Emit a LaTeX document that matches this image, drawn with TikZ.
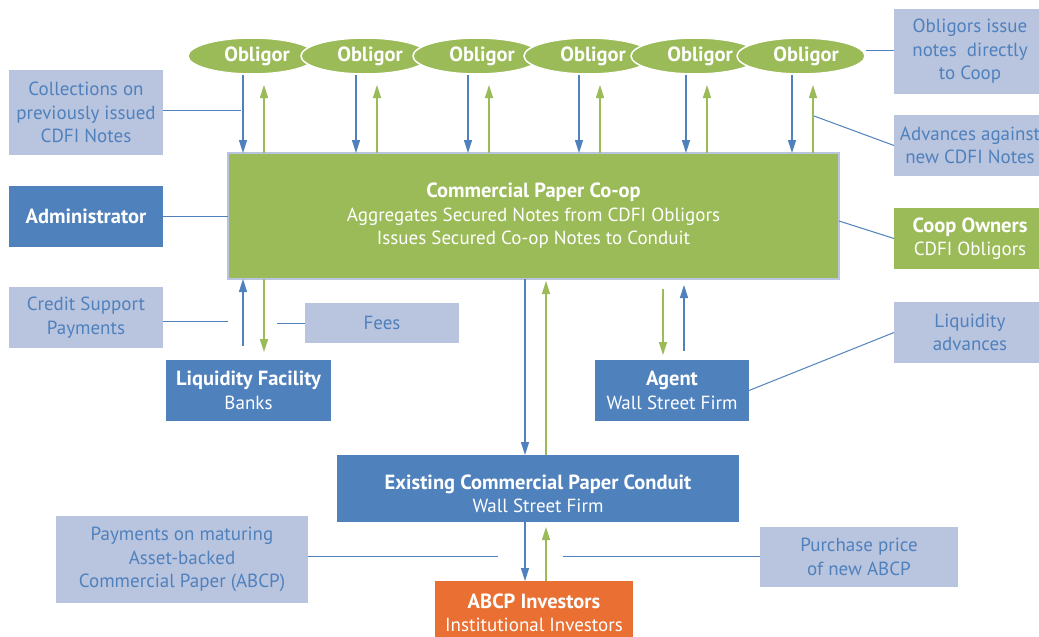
\documentclass[tikz,border=0pt]{standalone}
\usepackage{fontspec}
\setmainfont{PT Sans}
\usetikzlibrary{arrows.meta,shapes.geometric}
\definecolor{cblue}{HTML}{4F81BD}
\definecolor{clight}{HTML}{B9C4DF}
\definecolor{cgreen}{HTML}{9BBB59}
\definecolor{corange}{HTML}{E96F32}
\newcommand\bxt[1]{{\fontsize{20.5}{23.5}\selectfont\bfseries #1}}
\begin{document}
\begin{tikzpicture}[x=1pt,y=-1pt,
  fnt/.style={font=\fontsize{19}{23.5}\selectfont},
  basebox/.style={fnt, align=center, inner sep=0pt, outer sep=0pt},
  lbox/.style={basebox, fill=clight, text=cblue},
  dbox/.style={basebox, fill=cblue, text=white},
  gbox/.style={basebox, fill=cgreen, text=white},
  obox/.style={basebox, fill=corange, text=white},
  obl/.style={ellipse, fill=cgreen, draw=white, line width=1.5pt, minimum width=128pt, minimum height=36pt, inner sep=0pt},
  obltext/.style={font=\fontsize{20.5}{23.5}\selectfont\bfseries, text=white, inner sep=0pt},
  barrow/.style={draw=cblue, line width=1.4pt, -{Triangle[length=13pt,width=8pt]}},
  garrow/.style={draw=cgreen, line width=1.4pt, -{Triangle[length=13pt,width=8pt]}},
  link/.style={draw=cblue, line width=1pt},
]
\useasboundingbox (0,0) rectangle (1039,637);
\clip (0,0) rectangle (1039,637);
\fill[white] (0,0) rectangle (1039,637);

% obligors
\foreach \i/\c in {1/252,2/365,3/477,4/588,5/695,6/801}{
  \node[obl] (o\i) at (\c,56) {};
  \node[obltext] (ot\i) at (\c+5,56) {Obligor};
}

% main box
\node[gbox, draw=clight, line width=1.5pt, minimum width=611pt, minimum height=126pt] (main) at (533.5,216)
  {\bxt{Commercial Paper Co-op}\\Aggregates Secured Notes from CDFI Obligors\\Issues Secured Co-op Notes to Conduit};

% left boxes
\node[lbox, minimum width=154pt, minimum height=85pt] (coll) at (86,112.5) {Collections on\\previously issued\\CDFI Notes};
\node[dbox, minimum width=154pt, minimum height=61pt] (admin) at (86,216.5) {\bxt{Administrator}};
\node[lbox, minimum width=154pt, minimum height=61pt] (credit) at (86,317.5) {Credit Support\\Payments};
\node[lbox, minimum width=154pt, minimum height=40pt] (fees) at (382,323) {Fees};
\node[dbox, minimum width=165pt, minimum height=61pt] (liq) at (248.5,390.5) {\bxt{Liquidity Facility}\\Banks};
\node[dbox, minimum width=154pt, minimum height=61pt] (agent) at (672,390.5) {\bxt{Agent}\\Wall Street Firm};
\node[dbox, minimum width=402pt, minimum height=67pt] (conduit) at (538,488.5) {\rule{0pt}{25pt}\bxt{Existing Commercial Paper Conduit}\\Wall Street Firm};
\node[lbox, minimum width=252pt, minimum height=87pt] (pay) at (182,559.5) {Payments on maturing\\Asset-backed\\Commercial Paper (ABCP)};
\node[lbox, minimum width=198pt, minimum height=60pt] (purch) at (859,557) {Purchase price\\of new ABCP};
\node[obox, minimum width=198pt, minimum height=64pt] (abcp) at (534,613) {\bxt{ABCP Investors}\\Institutional Investors};

% right boxes
\node[lbox, minimum width=152pt, minimum height=85pt] (oblig) at (970,51.5) {Obligors issue\\notes\ \ directly\\to Coop};
\node[lbox, minimum width=152pt, minimum height=61pt] (adv) at (970,145.5) {Advances against\\new CDFI Notes};
\node[gbox, minimum width=152pt, minimum height=61pt] (coop) at (970,238.5) {\bxt{Coop Owners}\\CDFI Obligors};
\node[lbox, minimum width=152pt, minimum height=61pt] (liqadv) at (970,332.5) {Liquidity\\advances};

% obligor arrows
\foreach \i/\c in {1/252,2/365,3/477,4/588,5/695,6/801}{
  \coordinate (b\i) at (\c-9,75);
  \draw[barrow] (b\i) -- (b\i |- main.north);
  \coordinate (g\i) at (\c+12,85);
  \draw[garrow] (g\i |- main.north) -- (g\i);
}

% links
\coordinate (cl) at (241,110);
\draw[link] (coll.east |- cl) -- (cl);
\draw[link] (admin.east) -- (admin.east -| main.west);
\draw[link] (credit.east |- 0,321) -- (main.west |- 0,321);
\draw[link] (fees.west) -- ([xshift=-28pt]fees.west);
\draw[link] (o6.east |- 0,50) -- (oblig.west |- 0,50);
\coordinate (ad) at (814,116);
\draw[link] (ad) -- (adv.west);
\draw[link] ([yshift=-5pt]main.east) -- (coop.west);
\draw[link] (agent.east) -- (liqadv.west);
\coordinate (pl) at (498,556);
\draw[link] (pay.east |- pl) -- (pl);
\coordinate (pp) at (563,556);
\draw[link] (pp) -- (pp -| purch.west);

% liquidity facility arrows
\coordinate (lb) at (243,346);
\draw[barrow] (lb) -- (lb |- main.south);
\coordinate (lg) at (264,352);
\draw[garrow] (lg |- main.south) -- (lg);

% agent arrows
\coordinate (aga) at (663,289);
\coordinate (agb) at (663,355);
\draw[garrow] (aga) -- (agb);
\coordinate (agc) at (684,351);
\coordinate (agd) at (684,285);
\draw[barrow] (agc) -- (agd);

% main <-> conduit
\coordinate (cb) at (525,0);
\coordinate (cg) at (546,0);
\draw[barrow] (cb |- main.south) -- (cb |- conduit.north);
\draw[garrow] (cg |- conduit.north) -- ([yshift=-2pt]cg |- main.south);

% conduit <-> investors
\draw[barrow] (cb |- conduit.south) -- (cb |- abcp.north);
\coordinate (cgt) at (546,527);
\draw[garrow] (cg |- abcp.north) -- (cgt);
\end{tikzpicture}
\end{document}
